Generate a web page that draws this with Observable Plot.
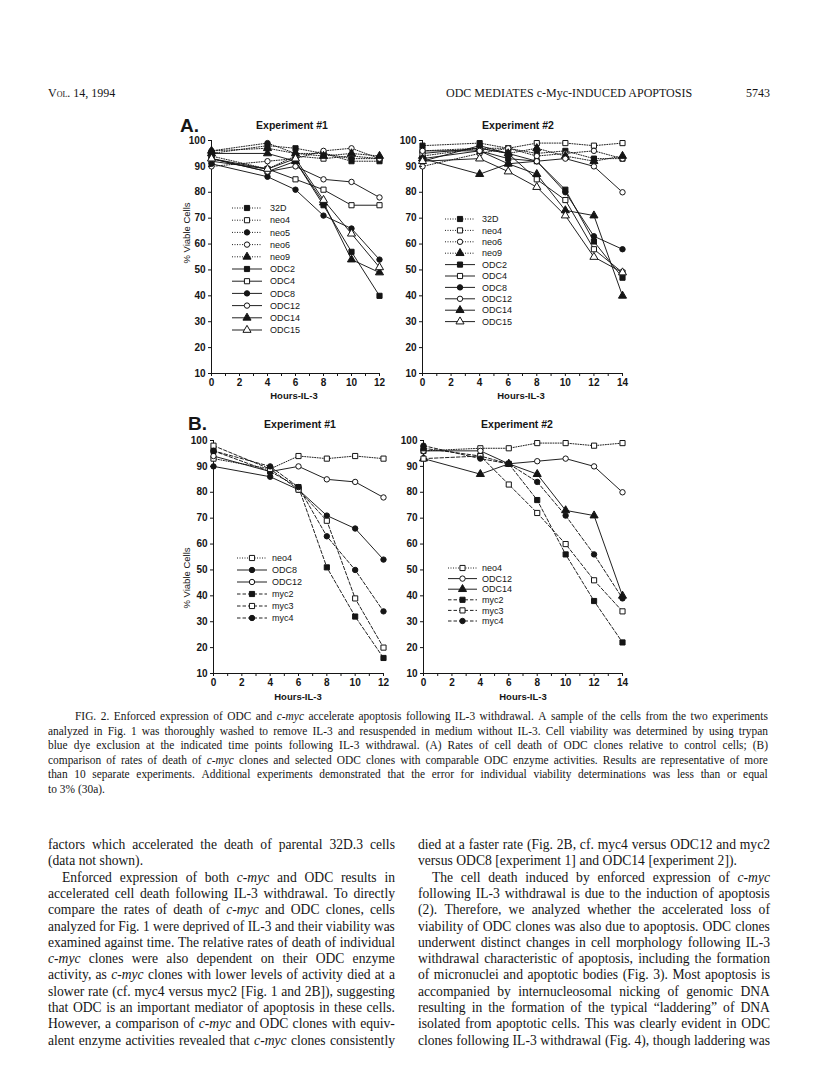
<!DOCTYPE html>
<html><head><meta charset="utf-8">
<script src="https://cdn.jsdelivr.net/npm/d3@7"></script>
<script src="https://cdn.jsdelivr.net/npm/@observablehq/plot@0.6"></script>
<style>
body{margin:0;background:#fff;}
#page{position:relative;width:816px;height:1079px;overflow:hidden;background:#fff;color:#151515;}
.abs{position:absolute;white-space:nowrap;}
.c{transform:translate(-50%,-50%);}
.sans{font-family:"Liberation Sans",Arial,Helvetica,sans-serif;}
.serif{font-family:"Liberation Serif","Times New Roman",serif;}
.ln{position:absolute;display:flex;justify-content:space-between;white-space:nowrap;transform-origin:0 0;}
.ln.last{justify-content:flex-start;column-gap:0.26em;}
</style></head><body><div id="page"></div>
<script>
// ---------------- DATA ----------------
const hoursExp1 = [0, 4, 6, 8, 10, 12];
const hoursExp2 = [0, 4, 6, 8, 10, 12, 14];
const yTickValues = [10, 20, 30, 40, 50, 60, 70, 80, 90, 100];
const xLabelsExp1 = [0, 2, 4, 6, 8, 10, 12];
const xLabelsExp2 = [0, 2, 4, 6, 8, 10, 12, 14];

// Panel A, Experiment #1
const seriesA1 = ["32D", "neo4", "neo5", "neo6", "neo9", "ODC2", "ODC4", "ODC8", "ODC12", "ODC14", "ODC15"];
const valuesA1 = [
  [95, 98, 97, 95, 92, 92],
  [94, 89, 94, 93, 94, 93],
  [96, 99, 95, 95, 93, 93],
  [90, 92, 93, 96, 97, 93],
  [96, 97, 95, 94, 95, 94],
  [93, 88, 92, 75, 57, 40],
  [92, 89, 85, 81, 75, 75],
  [91, 86, 81, 71, 66, 54],
  [93, 88, 90, 85, 84, 78],
  [95, 95, 92, 76, 54, 49],
  [93, 89, 93, 77, 64, 51]
];
// Panel A, Experiment #2
const seriesA2 = ["32D", "neo4", "neo6", "neo9", "ODC2", "ODC4", "ODC8", "ODC12", "ODC14", "ODC15"];
const valuesA2 = [
  [98, 99, 97, 95, 96, 93, 93],
  [96, 97, 97, 99, 99, 98, 99],
  [90, 95, 97, 94, 95, 96, 93],
  [94, 97, 95, 97, 94, 92, 94],
  [93, 96, 93, 92, 81, 61, 47],
  [95, 97, 95, 85, 77, 58, 49],
  [92, 98, 95, 92, 80, 63, 58],
  [96, 96, 91, 92, 93, 90, 80],
  [93, 87, 91, 87, 73, 71, 40],
  [92, 93, 88, 82, 71, 55, 49]
];
// Panel B, Experiment #1
const seriesB1 = ["neo4", "ODC8", "ODC12", "myc2", "myc3", "myc4"];
const valuesB1 = [
  [93, 89, 94, 93, 94, 93],
  [90, 86, 81, 71, 66, 54],
  [94, 88, 90, 85, 84, 78],
  [96, 88, 82, 51, 32, 16],
  [98, 89, 81, 69, 39, 20],
  [96, 90, 82, 63, 50, 34]
];
// Panel B, Experiment #2
const seriesB2 = ["neo4", "ODC12", "ODC14", "myc2", "myc3", "myc4"];
const valuesB2 = [
  [96, 97, 97, 99, 99, 98, 99],
  [96, 96, 91, 92, 93, 90, 80],
  [93, 87, 91, 87, 73, 71, 40],
  [97, 94, 91, 77, 56, 38, 22],
  [93, 94, 83, 72, 60, 46, 34],
  [98, 93, 91, 84, 71, 56, 39]
];

// ---------------- STYLES ----------------
const seriesStyle = {
  "32D":  {line: "dotted", symbol: "square",   filled: true},
  "neo4": {line: "dotted", symbol: "square",   filled: false},
  "neo5": {line: "dotted", symbol: "circle",   filled: true},
  "neo6": {line: "dotted", symbol: "circle",   filled: false},
  "neo9": {line: "dotted", symbol: "triangle", filled: true},
  "ODC2": {line: "solid",  symbol: "square",   filled: true},
  "ODC4": {line: "solid",  symbol: "square",   filled: false},
  "ODC8": {line: "solid",  symbol: "circle",   filled: true},
  "ODC12":{line: "solid",  symbol: "circle",   filled: false},
  "ODC14":{line: "solid",  symbol: "triangle", filled: true},
  "ODC15":{line: "solid",  symbol: "triangle", filled: false},
  "myc2": {line: "dashed", symbol: "square",   filled: true},
  "myc3": {line: "dashed", symbol: "square",   filled: false},
  "myc4": {line: "dashed", symbol: "circle",   filled: true}
};
const dashArr = {dotted: "1,1.5", solid: "none", dashed: "3.5,2"};
const ink = "#151515";
const symR = {circle: 2.7, square: 2.9, triangle: 3.0};

const page = document.getElementById("page");

function chart(series, values, hours, xMax, xLabels, g) {
  const rows = series.flatMap((s, i) => hours.map((h, j) => ({series: s, hour: h, value: values[i][j]})));
  const marks = [Plot.ruleX([0], {stroke: ink, strokeWidth: 1}), Plot.ruleY([10], {stroke: ink, strokeWidth: 1})];
  for (const s of series) {
    const st = seriesStyle[s];
    marks.push(Plot.line(rows.filter(r => r.series === s), {x: "hour", y: "value", stroke: ink, strokeWidth: 0.95,
      strokeDasharray: dashArr[st.line]}));
  }
  for (const s of series) {
    const st = seriesStyle[s];
    marks.push(Plot.dot(rows.filter(r => r.series === s), {x: "hour", y: "value", symbol: st.symbol, r: symR[st.symbol],
      fill: st.filled ? ink : "#fff", stroke: ink, strokeWidth: 1}));
  }
  marks.push(Plot.axisY({ticks: yTickValues, tickSize: 3, tickPadding: 3, label: null}));
  marks.push(Plot.axisX({ticks: d3.range(0, xMax + 1), tickFormat: d => xLabels.includes(d) ? String(d) : "",
    tickSize: 3, tickPadding: 2, label: null}));
  const svg = Plot.plot({
    width: g.ml + g.w + g.mr, height: g.mt + g.h + g.mb,
    marginLeft: g.ml, marginRight: g.mr, marginTop: g.mt, marginBottom: g.mb,
    x: {domain: [0, xMax]}, y: {domain: [10, 100]},
    style: {fontFamily: '"Liberation Sans", Arial, sans-serif', fontSize: "10px", fontWeight: "bold",
      background: "transparent", color: ink, overflow: "visible"},
    marks
  });
  svg.style.position = "absolute";
  svg.style.left = (g.x0 - g.ml) + "px";
  svg.style.top = (g.y100 - g.mt) + "px";
  page.appendChild(svg);
}

const M = {ml: 30, mr: 8, mt: 8, mb: 28};
chart(seriesA1, valuesA1, hoursExp1, 12, xLabelsExp1, {...M, x0: 211, w: 168, y100: 140, h: 233});
chart(seriesA2, valuesA2, hoursExp2, 14, xLabelsExp2, {...M, x0: 422, w: 200, y100: 140, h: 233});
chart(seriesB1, valuesB1, hoursExp1, 12, xLabelsExp1, {...M, x0: 213, w: 170, y100: 440, h: 233});
chart(seriesB2, valuesB2, hoursExp2, 14, xLabelsExp2, {...M, x0: 423, w: 199, y100: 440, h: 233});

// ---------------- LEGENDS ----------------
const layer = d3.select(page).append("svg").attr("width", 816).attr("height", 1079)
  .style("position", "absolute").style("left", 0).style("top", 0).style("pointer-events", "none");
const symType = {circle: d3.symbolCircle, square: d3.symbolSquare, triangle: d3.symbolTriangle};
function legend(series, lg) {
  series.forEach((s, i) => {
    const st = seriesStyle[s];
    const y = lg.y0 + i * lg.dy;
    const gg = layer.append("g");
    gg.append("line").attr("x1", lg.x1).attr("x2", lg.x2).attr("y1", y).attr("y2", y)
      .attr("stroke", ink).attr("stroke-width", 0.95).attr("stroke-dasharray", dashArr[st.line]);
    const r = symR[st.symbol];
    gg.append("path").attr("d", d3.symbol(symType[st.symbol], Math.PI * r * r)())
      .attr("transform", `translate(${(lg.x1 + lg.x2) / 2},${y})`)
      .attr("fill", st.filled ? ink : "#fff").attr("stroke", ink).attr("stroke-width", 1);
    gg.append("text").attr("x", lg.tx).attr("y", y).attr("dy", "0.35em").text(s)
      .attr("font-family", '"Liberation Sans", Arial, sans-serif').attr("font-size", 9).attr("fill", ink);
  });
}
legend(seriesA1, {x1: 232, x2: 262, tx: 270, y0: 208, dy: 12.2});
legend(seriesA2, {x1: 445, x2: 475, tx: 482, y0: 219, dy: 11.4});
legend(seriesB1, {x1: 237, x2: 267, tx: 272, y0: 558, dy: 12});
legend(seriesB2, {x1: 448, x2: 477, tx: 482, y0: 568, dy: 10.6});

// ---------------- TEXT ----------------
function txt(s, x, y, css, cls) {
  const d = document.createElement("div");
  d.className = "abs " + (cls || "");
  d.style.cssText += `left:${x}px;top:${y}px;` + css;
  d.innerHTML = s;
  page.appendChild(d);
  return d;
}
const bold = "font-weight:bold;";
txt("A.", 180, 116, "font-size:19px;" + bold + "line-height:1;", "sans");
txt("B.", 188, 414, "font-size:19px;" + bold + "line-height:1;", "sans");
txt("Experiment #1", 292, 125, "font-size:10.5px;" + bold, "sans c");
txt("Experiment #2", 518, 125, "font-size:10.5px;" + bold, "sans c");
txt("Experiment #1", 300, 424, "font-size:10.5px;" + bold, "sans c");
txt("Experiment #2", 517, 424, "font-size:10.5px;" + bold, "sans c");
for (const cy of [233, 578]) {
  txt("% Viable Cells", 186, cy, "font-size:9.5px;transform:translate(-50%,-50%) rotate(-90deg);", "sans");
}
txt("Hours-IL-3", 294, 395, "font-size:9.5px;" + bold, "sans c");
txt("Hours-IL-3", 521, 395, "font-size:9.5px;" + bold, "sans c");
txt("Hours-IL-3", 298, 696, "font-size:9.5px;" + bold, "sans c");
txt("Hours-IL-3", 523, 696, "font-size:9.5px;" + bold, "sans c");

// header
txt("Vol. 14, 1994", 48, 86, "font-size:12px;font-variant:small-caps;", "serif");
const hr = txt("ODC MEDIATES c-Myc-INDUCED APOPTOSIS", 0, 86, "font-size:12px;", "serif");
hr.style.left = (692 - hr.offsetWidth) + "px";
const pg = txt("5743", 0, 86, "font-size:12px;", "serif");
pg.style.left = (770 - pg.offsetWidth) + "px";

// justified lines (condensed slightly when a line is naturally too wide)
function lines(arr, x, w, y0, dy, fs, sx) {
  sx = sx || 1;
  arr.forEach((L, i) => {
    const ind = L.indent || 0;
    const html = L.t.replace(/_([^_]+)_/g, "<i>$1</i>");
    const probe = document.createElement("span");
    probe.className = "serif";
    probe.style.cssText = `position:absolute;visibility:hidden;white-space:nowrap;font-size:${fs}px;`;
    probe.innerHTML = html;
    page.appendChild(probe);
    const natural = probe.offsetWidth;
    probe.remove();
    const avail = w - ind;
    let s = sx;
    if (natural * s > avail - 2) s = (avail - 2) / natural;
    const d = document.createElement("div");
    d.className = "ln serif" + (L.last ? " last" : "");
    d.style.cssText = `left:${x + ind}px;width:${avail / s}px;top:${y0 + i * dy}px;font-size:${fs}px;line-height:${dy}px;transform:scaleX(${s});`;
    L.t.split(" ").forEach(wd => {
      const sp = document.createElement("span");
      sp.innerHTML = wd.replace(/_([^_]+)_/g, "<i>$1</i>");
      d.appendChild(sp);
    });
    page.appendChild(d);
  });
}
const captionLines = [
  {t: "FIG. 2. Enforced expression of ODC and _c-myc_ accelerate apoptosis following IL-3 withdrawal. A sample of the cells from the two experiments", indent: 27},
  {t: "analyzed in Fig. 1 was thoroughly washed to remove IL-3 and resuspended in medium without IL-3. Cell viability was determined by using trypan"},
  {t: "blue dye exclusion at the indicated time points following IL-3 withdrawal. (A) Rates of cell death of ODC clones relative to control cells; (B)"},
  {t: "comparison of rates of death of _c-myc_ clones and selected ODC clones with comparable ODC enzyme activities. Results are representative of more"},
  {t: "than 10 separate experiments. Additional experiments demonstrated that the error for individual viability determinations was less than or equal"},
  {t: "to 3% (30a).", last: true}
];
lines(captionLines, 48, 720, 709, 14.6, 12.4, 0.92);

const leftCol = [
  {t: "factors which accelerated the death of parental 32D.3 cells"},
  {t: "(data not shown).", last: true},
  {t: "Enforced expression of both _c-myc_ and ODC results in", indent: 14},
  {t: "accelerated cell death following IL-3 withdrawal. To directly"},
  {t: "compare the rates of death of _c-myc_ and ODC clones, cells"},
  {t: "analyzed for Fig. 1 were deprived of IL-3 and their viability was"},
  {t: "examined against time. The relative rates of death of individual"},
  {t: "_c-myc_ clones were also dependent on their ODC enzyme"},
  {t: "activity, as _c-myc_ clones with lower levels of activity died at a"},
  {t: "slower rate (cf. myc4 versus myc2 [Fig. 1 and 2B]), suggesting"},
  {t: "that ODC is an important mediator of apoptosis in these cells."},
  {t: "However, a comparison of _c-myc_ and ODC clones with equiv-"},
  {t: "alent enzyme activities revealed that _c-myc_ clones consistently"}
];
const rightCol = [
  {t: "died at a faster rate (Fig. 2B, cf. myc4 versus ODC12 and myc2"},
  {t: "versus ODC8 [experiment 1] and ODC14 [experiment 2]).", last: true},
  {t: "The cell death induced by enforced expression of _c-myc_", indent: 14},
  {t: "following IL-3 withdrawal is due to the induction of apoptosis"},
  {t: "(2). Therefore, we analyzed whether the accelerated loss of"},
  {t: "viability of ODC clones was also due to apoptosis. ODC clones"},
  {t: "underwent distinct changes in cell morphology following IL-3"},
  {t: "withdrawal characteristic of apoptosis, including the formation"},
  {t: "of micronuclei and apoptotic bodies (Fig. 3). Most apoptosis is"},
  {t: "accompanied by internucleosomal nicking of genomic DNA"},
  {t: "resulting in the formation of the typical \u201claddering\u201d of DNA"},
  {t: "isolated from apoptotic cells. This was clearly evident in ODC"},
  {t: "clones following IL-3 withdrawal (Fig. 4), though laddering was"}
];
lines(leftCol, 48, 347, 837, 16.3, 13.6);
lines(rightCol, 418, 352, 837, 16.3, 13.6);
</script></body></html>
